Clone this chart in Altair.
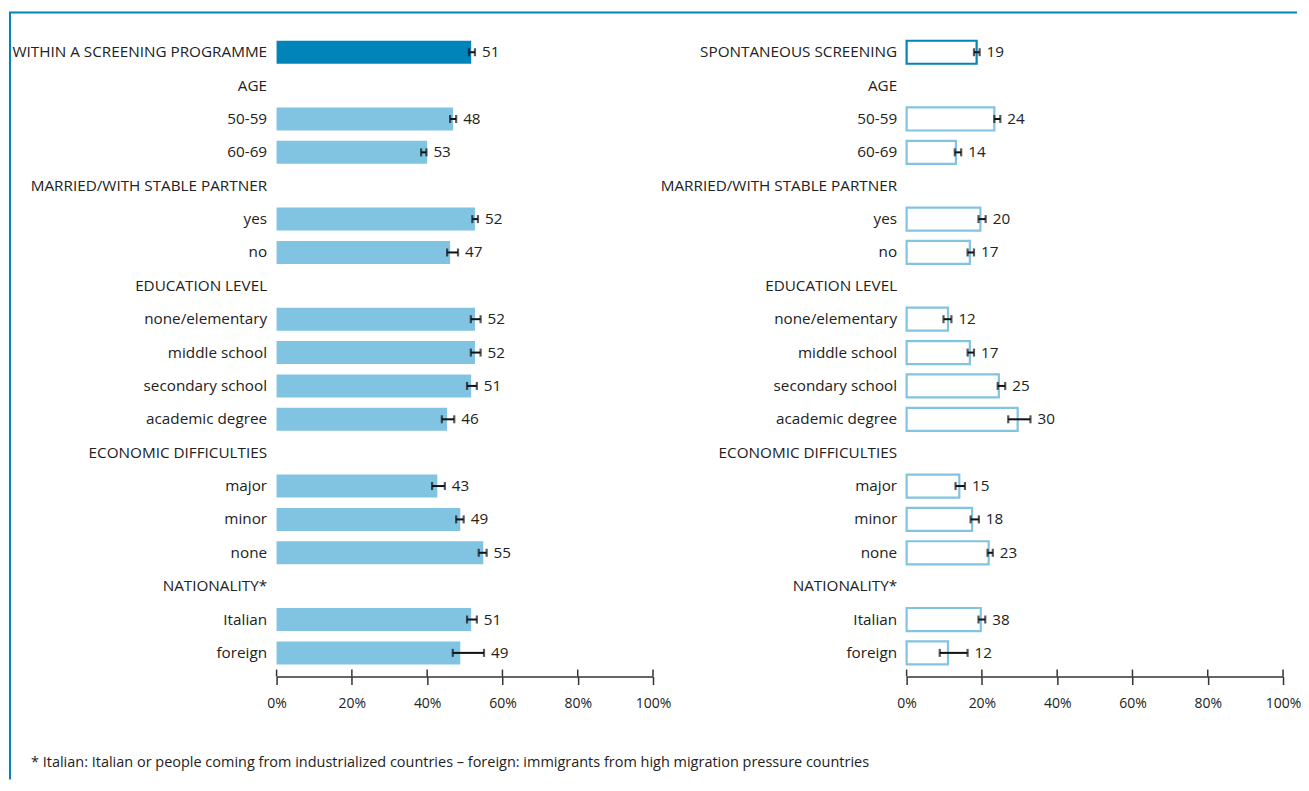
import altair as alt
import pandas as pd

# ---------------- data ----------------
cats_left = ["WITHIN A SCREENING PROGRAMME", "AGE", "50-59", "60-69",
             "MARRIED/WITH STABLE PARTNER", "yes", "no", "EDUCATION LEVEL",
             "none/elementary", "middle school", "secondary school", "academic degree",
             "ECONOMIC DIFFICULTIES", "major", "minor", "none", "NATIONALITY*",
             "Italian", "foreign"]
cats_right = ["SPONTANEOUS SCREENING"] + cats_left[1:]

left_bar = [51.7, None, 46.9, 40.0, None, 52.7, 46.1, None, 52.7, 52.7, 51.7, 45.3,
            None, 42.7, 48.8, 54.9, None, 51.7, 48.8]
left_lo = [51.1, None, 46.1, 38.4, None, 52.0, 45.3, None, 51.6, 51.6, 50.6, 43.9,
           None, 41.3, 47.7, 53.7, None, 50.6, 46.8]
left_hi = [52.7, None, 47.7, 39.8, None, 53.5, 48.2, None, 54.2, 54.2, 53.2, 47.2,
           None, 44.7, 49.7, 55.8, None, 53.2, 55.1]
left_lab = ["51", None, "48", "53", None, "52", "47", None, "52", "52", "51", "46",
            None, "43", "49", "55", None, "51", "49"]

right_bar = [18.6, None, 23.3, 13.1, None, 19.6, 16.8, None, 11.0, 16.8, 24.5, 29.5,
             None, 14.0, 17.4, 21.8, None, 19.7, 11.0]
right_lo = [17.9, None, 23.3, 12.8, None, 19.1, 16.2, None, 9.8, 16.2, 24.2, 27.0,
            None, 13.0, 17.0, 21.5, None, 19.1, 8.8]
right_hi = [19.4, None, 24.9, 14.5, None, 21.0, 17.9, None, 11.9, 17.9, 26.2, 32.9,
            None, 15.5, 19.2, 22.9, None, 20.9, 16.2]
right_lab = ["19", None, "24", "14", None, "20", "17", None, "12", "17", "25", "30",
             None, "15", "18", "23", None, "38", "12"]

tick_values = [0, 20, 40, 60, 80, 100]
footnote = ("* Italian: Italian or people coming from industrialized countries \u2013 "
            "foreign: immigrants from high migration pressure countries")

# ---------------- style ----------------
FONT = "Open Sans, sans-serif"
FS = 15.3
DARK = "#0084b9"
LIGHT = "#80c4e2"
TXT = "#222222"
W = 377
H = 635


def panel(cats, bar, lo, hi, lab, filled, deco=False):
    rows = []
    for c, b, l, h, t in zip(cats, bar, lo, hi, lab):
        if b is None:
            continue
        rows.append({"cat": c, "v": b, "lo": l, "hi": h, "lab": t,
                     "first": c == cats[0]})
    df = pd.DataFrame(rows)

    yscale = alt.Scale(domain=cats, paddingInner=0.31, paddingOuter=0.155)
    y = alt.Y("cat:N", scale=yscale, sort=cats,
              axis=alt.Axis(title=None, ticks=False, tickSize=0, domain=False,
                            labelAlign="right", labelPadding=10, labelFont=FONT,
                            labelFontSize=FS, labelColor=TXT, labelLimit=500))
    xscale = alt.Scale(domain=[0, 100], nice=False, zero=True)
    xaxis = alt.Axis(title=None, values=tick_values, labelExpr="datum.value + '%'",
                     grid=False, tickSize=8, tickWidth=1.5, tickColor="#333",
                     domainColor="#333", domainWidth=1.5, offset=7,
                     labelFlush=False, labelFont=FONT, labelFontSize=14,
                     labelColor=TXT, labelPadding=12)
    color = alt.condition("datum.first", alt.value(DARK), alt.value(LIGHT))

    base = alt.Chart(df)
    if filled:
        bars = base.mark_bar().encode(x=alt.X("v:Q", scale=xscale, axis=xaxis),
                                      y=y, color=color)
    else:
        bars = base.mark_bar(fill="white", strokeWidth=2.2).encode(
            x=alt.X("v:Q", scale=xscale, axis=xaxis), y=y, stroke=color)

    err = base.mark_rule(color="#111", strokeWidth=2).encode(
        x="lo:Q", x2="hi:Q", y=alt.Y("cat:N", sort=cats))
    cap_lo = base.mark_tick(color="#111", thickness=2.2, size=8).encode(
        x="lo:Q", y=alt.Y("cat:N", sort=cats))
    cap_hi = base.mark_tick(color="#111", thickness=2.2, size=8).encode(
        x="hi:Q", y=alt.Y("cat:N", sort=cats))
    labels = base.mark_text(align="left", baseline="middle", dx=7, font=FONT,
                            fontSize=FS, color=TXT).encode(
        x="hi:Q", y=alt.Y("cat:N", sort=cats), text="lab:N")

    up_ticks = alt.Chart(pd.DataFrame({"t": tick_values})).mark_rule(
        color="#333", strokeWidth=1.5).encode(
        x="t:Q", y=alt.value(H), y2=alt.value(H + 7))

    layers = [bars, err, cap_lo, cap_hi, labels, up_ticks]

    if deco:
        frame_left = alt.Chart(pd.DataFrame({"a": [0]})).mark_rule(
            color=DARK, strokeWidth=2).encode(
            x=alt.value(-267), y=alt.value(-23), y2=alt.value(745))
        frame_top = alt.Chart(pd.DataFrame({"a": [0]})).mark_rule(
            color=DARK, strokeWidth=2).encode(
            x=alt.value(-268), x2=alt.value(1022), y=alt.value(-23))
        note = alt.Chart(pd.DataFrame({"note": [footnote]})).mark_text(
            align="left", baseline="middle", font=FONT, fontSize=14.5,
            color=TXT).encode(x=alt.value(-246), y=alt.value(729), text="note:N")
        layers += [frame_left, frame_top, note]

    return alt.layer(*layers).properties(width=W, height=H)


left = panel(cats_left, left_bar, left_lo, left_hi, left_lab, True, deco=True)
right = panel(cats_right, right_bar, right_lo, right_hi, right_lab, False)

chart = alt.hconcat(left, right, spacing=254, bounds="flush").properties(
    padding={"left": 0, "top": 3, "right": 0, "bottom": 0},
    background="white",
).configure_view(stroke=None)

chart.save("out.html", embed_options={"renderer": "svg", "actions": False})
